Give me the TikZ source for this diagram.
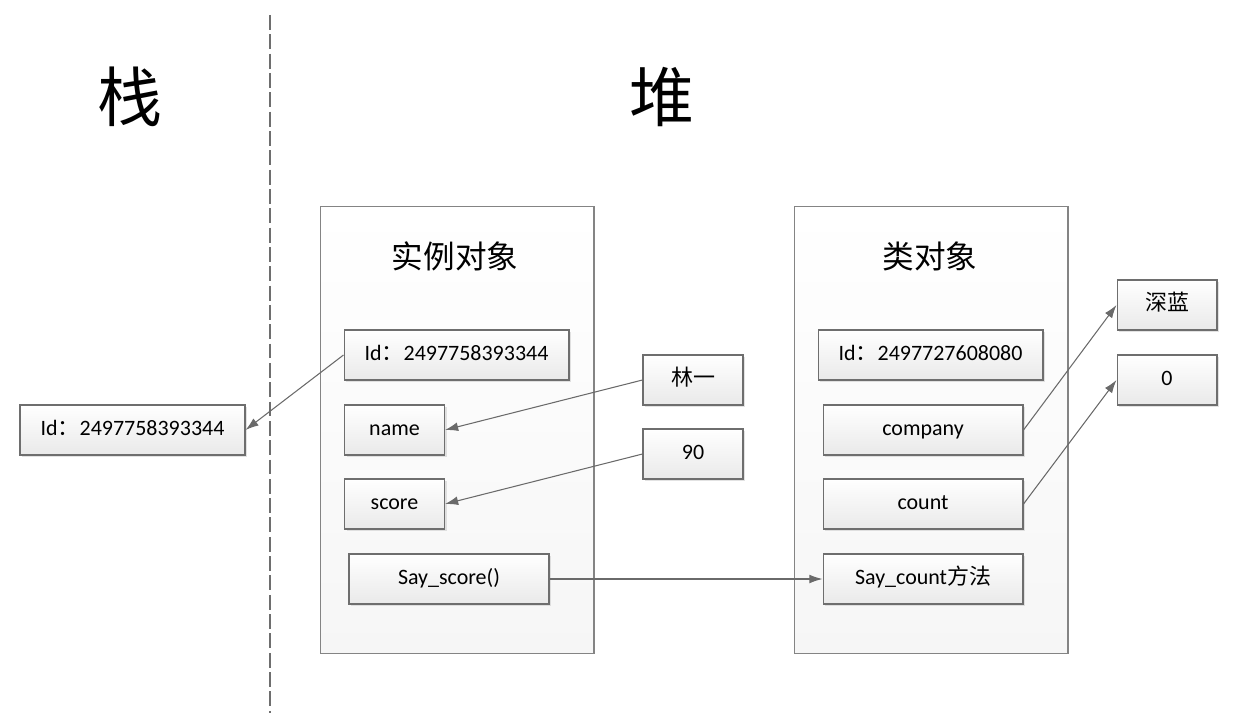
\documentclass[tikz,border=0pt]{standalone}
\usepackage{fontspec}
\setmainfont{Carlito}
\newfontfamily\cjk{Noto Sans CJK SC}
\usetikzlibrary{arrows.meta}
\usetikzlibrary{shadows}
\definecolor{boxline}{HTML}{6E6E6E}
\definecolor{arrowcolor}{HTML}{6A6A6A}

\begin{document}
\begin{tikzpicture}[x=0.02cm,y=-0.02cm,
    cell/.style={draw=boxline, line width=0.6pt, top color=white, bottom color=gray!17,
      drop shadow={shadow xshift=1.2pt, shadow yshift=-1.2pt, fill=gray!45, opacity=0.5},
      minimum height=1cm, inner sep=0pt, text height=8.8pt, text depth=2.2pt,
      font=\fontsize{12.5}{14}\selectfont},
    holder/.style={draw=boxline!85, line width=0.6pt, top color=white, bottom color=gray!7,
      minimum width=5.48cm, minimum height=8.96cm, inner sep=0pt},
    link/.style={draw=arrowcolor, line width=0.6pt, -{Latex[length=7.5pt,width=5pt]}}]
   \useasboundingbox (0,0) rectangle (1243,713);
   \draw [boxline, line width=0.6pt, dash pattern=on 8.5pt off 2.5pt] (270,15) -- (270,713);
   \node [font=\cjk\fontsize{37}{40}\selectfont] (stacktitle) at (130,97) {栈};
   \node [font=\cjk\fontsize{37}{40}\selectfont] (heaptitle) at (662,97) {堆};
%% stack
   \node [cell, minimum width=4.5cm] (stackid) at (132.5,430) {Id{\cjk ：}2497758393344};
%% instance object
   \node [holder] (inst) at (457,430) {};
   \node [font=\cjk\fontsize{18}{20}\selectfont] (insttitle) at (455,256) {实例对象};
   \node [cell, minimum width=4.5cm] (instid) at (456.5,355) {Id{\cjk ：}2497758393344};
   \node [cell, minimum width=2cm] (name) at (394.5,430) {name};
   \node [cell, minimum width=2cm] (score) at (394.5,504) {score};
   \node [cell, minimum width=4cm] (sayscore) at (449,579) {Say\_score()};
   \node [cell, minimum width=2cm] (linyi) at (693,380) {\cjk 林一};
   \node [cell, minimum width=2cm] (ninety) at (693,454) {90};
%% class object
   \node [holder] (cls) at (931,430) {};
   \node [font=\cjk\fontsize{18}{20}\selectfont] (clstitle) at (930,256) {类对象};
   \node [cell, minimum width=4.5cm] (clsid) at (930.5,355) {Id{\cjk ：}2497727608080};
   \node [cell, minimum width=4cm] (company) at (923,430) {company};
   \node [cell, minimum width=4cm] (count) at (923,504) {count};
   \node [cell, minimum width=4cm] (saycount) at (923,579) {Say\_count{\cjk 方法}};
   \node [cell, minimum width=2cm] (shenlan) at (1167,305) {\cjk 深蓝};
   \node [cell, minimum width=2cm] (zero) at (1167,380) {0};
%% links
   \draw [link] (instid.west) -- (stackid.east);
   \draw [link] (linyi.west) -- (name.east);
   \draw [link] (ninety.west) -- (score.east);
   \draw [link] (sayscore.east) -- (saycount.west);
   \draw [link] (company.east) -- (shenlan.west);
   \draw [link] (count.east) -- (zero.west);
\end{tikzpicture}
\end{document}
